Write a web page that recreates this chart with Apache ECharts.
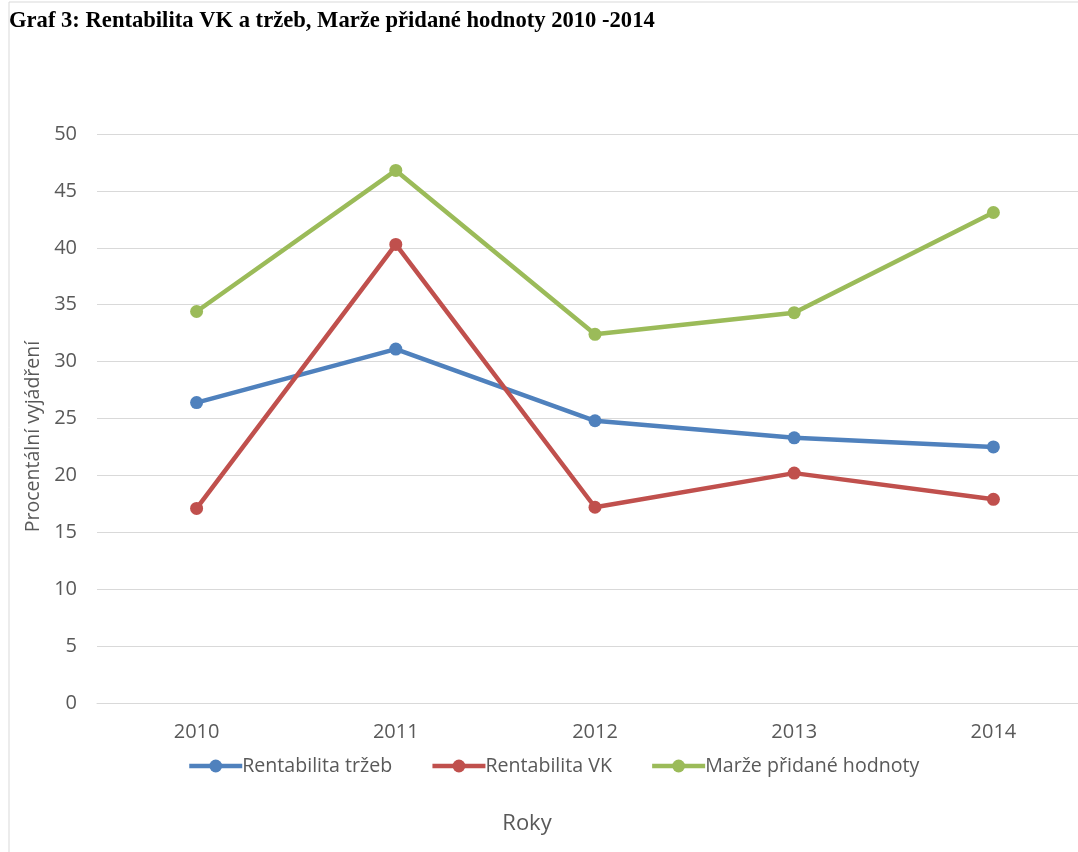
<!DOCTYPE html>
<html>
<head>
<meta charset="utf-8">
<script src="https://cdn.jsdelivr.net/npm/echarts@6/dist/echarts.min.js"></script>
<style>
  html, body { margin: 0; padding: 0; background: #fff; overflow: hidden; }
  #chart { width: 1100px; height: 852px; }
</style>
</head>
<body>
<div id="chart"></div>
<script>
var years = ['2010', '2011', '2012', '2013', '2014'];
var rentTrzeb = [26.4, 31.1, 24.8, 23.3, 22.5];
var rentVK = [17.1, 40.3, 17.2, 20.2, 17.9];
var marze = [34.4, 46.8, 32.4, 34.3, 43.1];
var seriesNames = ['Rentabilita tržeb', 'Rentabilita VK', 'Marže přidané hodnoty'];
var seriesColors = ['#4F81BD', '#C0504D', '#9BBB59'];

var chart = echarts.init(document.getElementById('chart'));

function lineSeries(name, data, color) {
  return {
    name: name,
    type: 'line',
    data: data,
    symbol: 'circle',
    symbolSize: 13,
    color: color,
    lineStyle: { width: 4.5, color: color },
    itemStyle: { color: color }
  };
}

chart.setOption({
  animation: false,
  textStyle: { fontFamily: 'Open Sans' },
  graphic: [{
    type: 'rect',
    shape: { x: 9, y: 2, width: 1200, height: 900 },
    style: { fill: 'none', stroke: '#d9d9d9', lineWidth: 1 },
    silent: true
  }],
  title: [{
    text: 'Graf 3: Rentabilita VK a tržeb, Marže přidané hodnoty 2010 -2014',
    left: 9,
    top: 10,
    padding: 0,
    textStyle: { fontFamily: 'Liberation Serif', fontWeight: 'bold', fontSize: 22.6, color: '#000' }
  }, {
    text: 'Roky',
    left: 527,
    top: 813,
    textAlign: 'center',
    padding: 0,
    textStyle: { fontFamily: 'Open Sans', fontWeight: 'normal', fontSize: 22, color: '#595959' }
  }],
  legend: {
    data: seriesNames,
    left: 182,
    top: 751,
    itemWidth: 53,
    itemHeight: 16,
    itemGap: 38,
    lineStyle: { width: 4.5 },
    textStyle: { fontSize: 19.6, color: '#595959', padding: [0, 0, 0, -5] }
  },
  grid: { left: 97, right: 7, top: 134, bottom: 149 },
  xAxis: {
    type: 'category',
    data: years,
    boundaryGap: true,
    axisLine: { lineStyle: { color: '#d9d9d9', width: 1 } },
    axisTick: { show: false },
    axisLabel: { color: '#595959', fontSize: 20, margin: 19 }
  },
  yAxis: {
    type: 'value',
    min: 0,
    max: 50,
    interval: 5,
    name: 'Procentální vyjádření',
    nameLocation: 'middle',
    nameGap: 54,
    nameTextStyle: { color: '#595959', fontSize: 19.5, padding: [0, 36, 0, 0] },
    axisLine: { show: false },
    axisTick: { show: false },
    axisLabel: { color: '#595959', fontSize: 20, margin: 20 },
    splitLine: { lineStyle: { color: '#d9d9d9', width: 1 } }
  },
  series: [
    lineSeries(seriesNames[0], rentTrzeb, seriesColors[0]),
    lineSeries(seriesNames[1], rentVK, seriesColors[1]),
    lineSeries(seriesNames[2], marze, seriesColors[2])
  ]
});
</script>
</body>
</html>
